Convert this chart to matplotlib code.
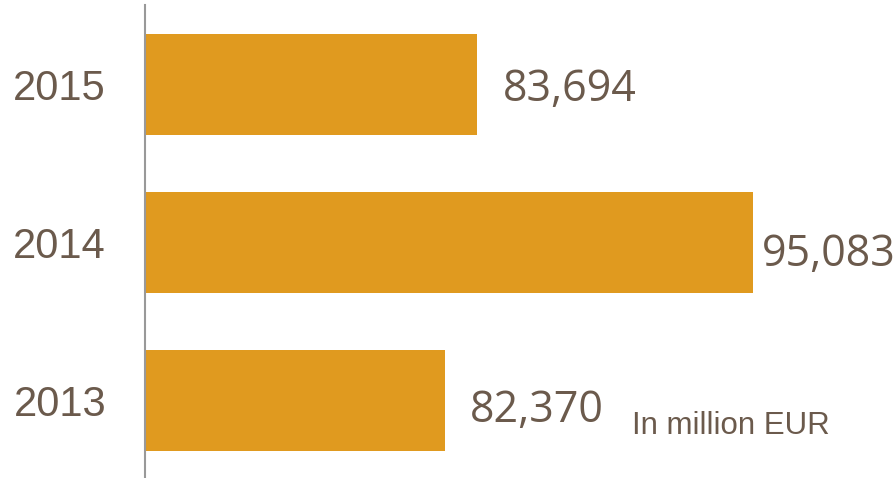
import matplotlib
matplotlib.use("Agg")
import matplotlib.pyplot as plt

# data
years = ["2013", "2014", "2015"]
revenue = [82370, 95083, 83694]
unit_note = "In million EUR"

bar_color = "#E09A1F"
text_color = "#6B5A4C"

fig = plt.figure(figsize=(8.95, 4.78), dpi=100)
# axes spans from the grey baseline (x=145px) to the right edge
ax = fig.add_axes([145 / 895, 0, 750 / 895, 473 / 478])

pos = range(len(years))
bars = ax.barh(pos, revenue, height=0.64, color=bar_color, left=0)
ax.set_xlim(70000, 100940)
ax.set_ylim(-0.49, 2.503)

ax.set_yticks(list(pos))
ax.set_yticklabels(years, fontsize=30, color=text_color, family="Liberation Sans")
ax.tick_params(axis="y", length=0, pad=28)
ax.set_xticks([])

for s in ["top", "right", "bottom"]:
    ax.spines[s].set_visible(False)
ax.spines["left"].set_color("#999999")
ax.spines["left"].set_linewidth(1.5)

# value labels, offsets in pixels (label placement differs per bar in the original)
label_offsets = [(25, -10), (9, -12), (26, -5)]
for p, v, (dx, dy) in zip(pos, revenue, label_offsets):
    ax.annotate(f"{v:,}", (v, p), xytext=(dx * 0.72, dy * 0.72), textcoords="offset points",
                ha="left", va="center", fontsize=31, color=text_color, family="Open Sans")

fig.text(632 / 895, 1 - 426 / 478, unit_note, ha="left", va="center",
         fontsize=22.5, color=text_color, family="Liberation Sans")

fig.savefig("out.png", dpi=100)
